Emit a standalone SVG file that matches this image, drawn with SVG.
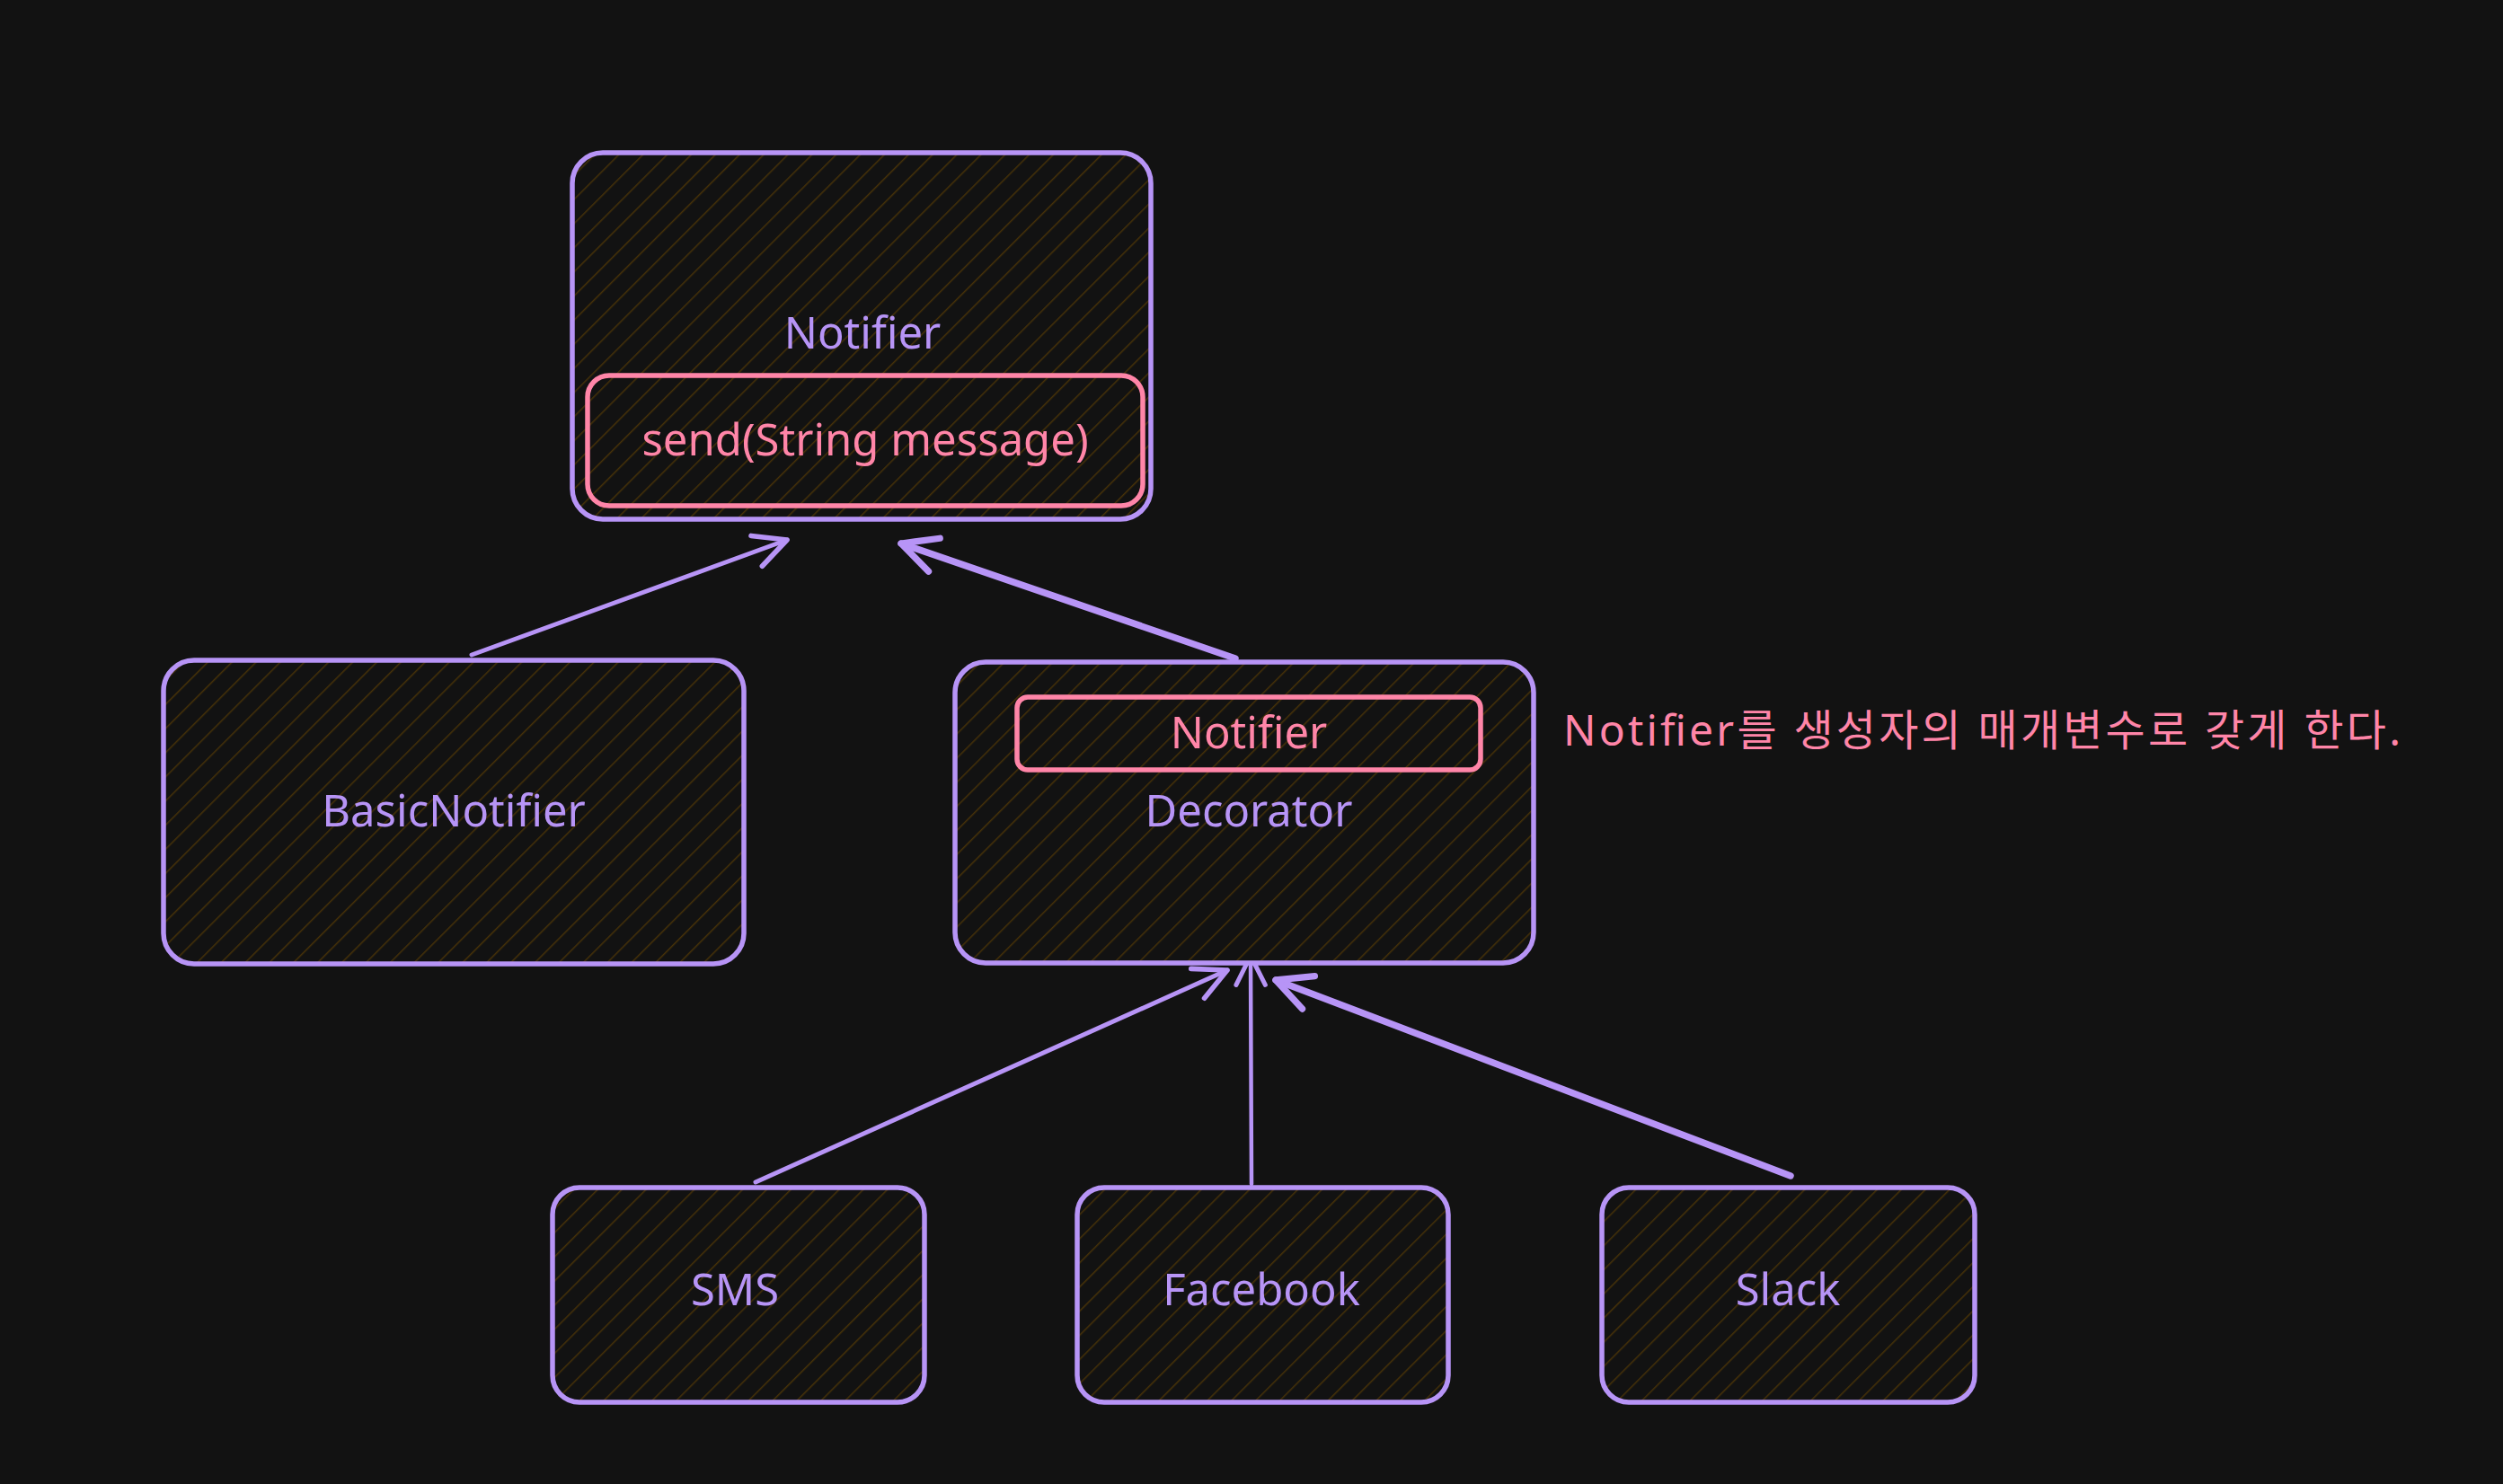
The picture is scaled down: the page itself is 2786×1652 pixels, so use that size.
<svg xmlns="http://www.w3.org/2000/svg" width="2786" height="1652" viewBox="0 0 2786 1652">
  <style>
    .box { fill: url(#hatch); stroke: #b794f6; stroke-width: 5.5; stroke-linejoin: round; }
    .inner { fill: none; stroke: #ff85a8; stroke-width: 5.5; }
    .lbl { font-family: "Noto Sans", "Liberation Sans", sans-serif; font-size: 49px; fill: #b794f6; text-anchor: middle; }
    .plbl { font-family: "Noto Sans", "Liberation Sans", sans-serif; font-size: 49px; fill: #ff85a8; text-anchor: middle; }
    .note { font-family: "Noto Sans", "Noto Sans CJK KR", sans-serif; font-size: 48px; fill: #ff85a8; }
    .edge { fill: none; stroke: #b794f6; stroke-linecap: round; }
  </style>
  <defs>
    <pattern id="hatch" patternUnits="userSpaceOnUse" width="19" height="19" patternTransform="rotate(45)">
      <rect width="19" height="19" fill="#121212"/>
      <line x1="0" y1="0" x2="0" y2="19" stroke="#463108" stroke-width="3"/>
    </pattern>
    <marker id="arrow" viewBox="0 0 20 20" refX="18" refY="10" markerWidth="9" markerHeight="9" markerUnits="strokeWidth" orient="auto">
      <path d="M2,2 L18,10 L2,18" fill="none" stroke="#b794f6" stroke-width="2.5" stroke-linecap="round" stroke-linejoin="round"/>
    </marker>
    <marker id="arrowT" viewBox="0 0 20 20" refX="18" refY="10" markerWidth="6.5" markerHeight="6.5" markerUnits="strokeWidth" orient="auto">
      <path d="M2,2 L18,10 L2,18" fill="none" stroke="#b794f6" stroke-width="3" stroke-linecap="round" stroke-linejoin="round"/>
    </marker>
  </defs>

  <rect x="0" y="0" width="2786" height="1652" fill="#121212"/>

  <g id="connectors">
    <path class="edge" d="M525,729 L876,601" stroke-width="5" marker-end="url(#arrow)"/>
    <path class="edge" d="M1375,733 L1003,605" stroke-width="7.5" marker-end="url(#arrowT)"/>
    <path class="edge" d="M841,1316 L1366,1080" stroke-width="5" marker-end="url(#arrow)"/>
    <path class="edge" d="M1393,1318 L1392,1064" stroke-width="4.5" marker-end="url(#arrow)"/>
    <path class="edge" d="M1993,1309 L1420,1091" stroke-width="7.5" marker-end="url(#arrowT)"/>
  </g>

  <g id="node-notifier">
    <rect class="box" x="637" y="170" width="644" height="408" rx="34"/>
    <text class="lbl" x="960" y="388">Notifier</text>
    <g id="node-send">
      <rect class="inner" x="654" y="418" width="618" height="145" rx="24"/>
      <text class="plbl" x="963" y="507">send(String message)</text>
    </g>
  </g>

  <g id="node-basicnotifier">
    <rect class="box" x="182" y="735" width="646" height="338" rx="34"/>
    <text class="lbl" x="505" y="920">BasicNotifier</text>
  </g>

  <g id="node-decorator">
    <rect class="box" x="1063" y="737" width="644" height="335" rx="34"/>
    <g id="node-decorator-notifier">
      <rect class="inner" x="1132" y="776" width="516" height="81" rx="12"/>
      <text class="plbl" x="1390" y="833">Notifier</text>
    </g>
    <text class="lbl" x="1390" y="920">Decorator</text>
  </g>

  <g id="node-sms">
    <rect class="box" x="615" y="1322" width="414" height="239" rx="30"/>
    <text class="lbl" x="818" y="1453">SMS</text>
  </g>

  <g id="node-facebook">
    <rect class="box" x="1199" y="1322" width="413" height="239" rx="30"/>
    <text class="lbl" x="1404" y="1453">Facebook</text>
  </g>

  <g id="node-slack">
    <rect class="box" x="1783" y="1322" width="415" height="239" rx="30"/>
    <text class="lbl" x="1990" y="1453">Slack</text>
  </g>

  <g id="note">
    <text class="note" x="1740" y="830" textLength="932" lengthAdjust="spacing">Notifier를 생성자의 매개변수로 갖게 한다.</text>
  </g>
</svg>
